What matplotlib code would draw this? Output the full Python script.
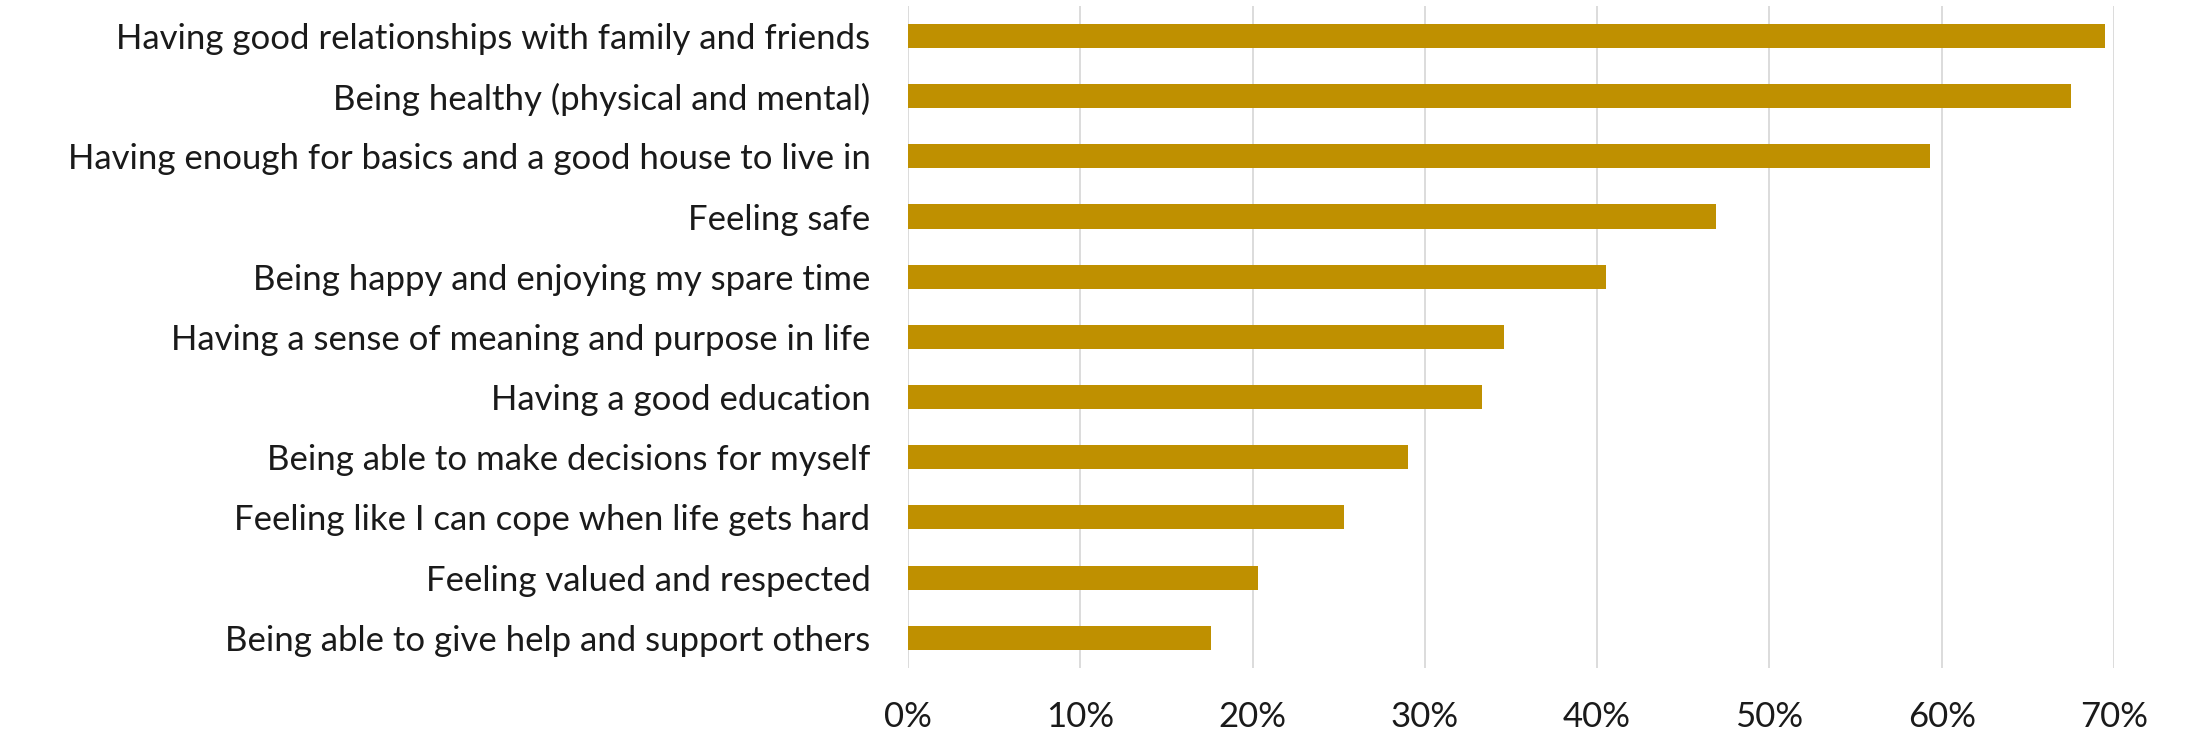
import matplotlib.pyplot as plt
from matplotlib.ticker import PercentFormatter

categories = [
    "Having good relationships with family and friends",
    "Being healthy (physical and mental)",
    "Having enough for basics and a good house to live in",
    "Feeling safe",
    "Being happy and enjoying my spare time",
    "Having a sense of meaning and purpose in life",
    "Having a good education",
    "Being able to make decisions for myself",
    "Feeling like I can cope when life gets hard",
    "Feeling valued and respected",
    "Being able to give help and support others",
]
values = [0.695, 0.675, 0.593, 0.469, 0.405, 0.346, 0.333, 0.290, 0.253, 0.203, 0.176]
x_ticks = [0, 0.1, 0.2, 0.3, 0.4, 0.5, 0.6, 0.7]

plt.rcParams['font.family'] = ['Lato', 'DejaVu Sans']

fig = plt.figure(figsize=(22.09, 7.38), dpi=100)
ax = fig.add_axes([0.411, 0.095, 0.546, 0.897])

ypos = list(range(len(categories)))
ax.barh(ypos, values, height=0.4, color='#BF9000', zorder=3)

ax.set_yticks(ypos)
ax.set_yticklabels(categories, fontsize=25, color='#1a1a1a')
ax.set_ylim(len(categories) - 0.5, -0.5)

ax.set_xlim(0, 0.7)
ax.set_xticks(x_ticks)
ax.xaxis.set_major_formatter(PercentFormatter(1.0, decimals=0))
ax.tick_params(axis='x', labelsize=25, labelcolor='#1a1a1a', length=0, pad=24)
ax.tick_params(axis='y', length=0, pad=27)

ax.grid(axis='x', color='#D9D9D9', linewidth=1.3, zorder=0)
for s in ax.spines.values():
    s.set_visible(False)

fig.savefig('out.png', dpi=100)
